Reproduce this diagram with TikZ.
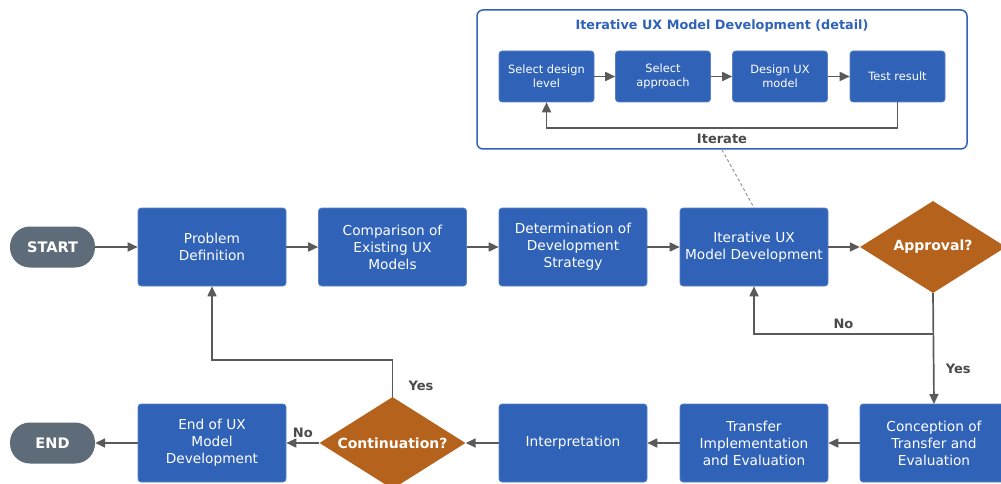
\documentclass[tikz,border=0pt]{standalone}
\usepackage{fontspec}
\setmainfont{DejaVu Sans}
\usetikzlibrary{arrows.meta,shapes.geometric}
\definecolor{boxblue}{HTML}{3063B8}
\definecolor{decorange}{HTML}{B5621D}
\definecolor{pillgray}{HTML}{5E6B78}
\definecolor{linegray}{HTML}{5A5A5A}
\definecolor{lblgray}{HTML}{4A4A4A}
\tikzset{
  box/.style={rectangle, rounded corners=3pt, fill=boxblue, draw=boxblue!80!white, line width=0.6pt,
    minimum width=148, minimum height=78, inner sep=0pt, align=center, text=white,
    font=\fontsize{13.7}{17}\selectfont},
  smallbox/.style={box, minimum width=95, minimum height=51, font=\fontsize{11.4}{14.5}\selectfont},
  pill/.style={rectangle, rounded corners=20pt, fill=pillgray, minimum width=85, minimum height=41,
    inner sep=0pt, text=white, font=\fontsize{14.5}{16}\selectfont\bfseries},
  decision/.style={diamond, aspect=1.59, fill=decorange, minimum width=146, minimum height=92, inner sep=0pt,
    text=white, font=\fontsize{14}{16}\selectfont\bfseries},
  arr/.style={draw=linegray, line width=1.7pt, -{Triangle[length=10pt,width=9pt]}},
  lbl/.style={text=lblgray, font=\fontsize{13}{15}\selectfont\bfseries},
}
\begin{document}
\begin{tikzpicture}[x=1pt,y=-1pt]
    \useasboundingbox (0,0) rectangle (1001,484);
    %detail frame
    \node[draw=boxblue, line width=1.5pt, rounded corners=6pt, fill=white,
        minimum width=490, minimum height=139, inner sep=0pt] (detail) at (722,79.5) {};
    \node[text=boxblue, font=\fontsize{12.8}{15}\selectfont\bfseries] (dtitle) at (722,26)
        {Iterative UX Model Development (detail)};
    %detail steps
    \node[smallbox] (sellevel) at (546.5,76.5) {Select design\\level};
    \node[smallbox] (selappr) at (663,76.5) {Select\\approach};
    \node[smallbox] (designux) at (780,76.5) {Design UX\\model};
    \node[smallbox] (testres) at (897.5,76.5) {Test result};
    \draw[arr] (sellevel) -- (selappr);
    \draw[arr] (selappr) -- (designux);
    \draw[arr] (designux) -- (testres);
    \coordinate (iterjoin) at (897.5,128);
    \draw[arr] (testres.south) -- (iterjoin) -| (sellevel.south)
        node[lbl, pos=0.25, below, yshift=-2pt]{Iterate};
    %upper row
    \node[pill] (start) at (52.5,247) {START};
    \node[box] (probdef) at (212,247) {Problem\\Definition};
    \node[box] (compare) at (392.5,247) {Comparison of\\Existing UX\\Models};
    \node[box] (determ) at (573,247) {Determination of\\Development\\Strategy};
    \node[box] (iterdev) at (754,247) {Iterative UX\\Model Development};
    \node[decision] (approval) at (933,247) {Approval?};
    %lower row
    \node[box] (concept) at (934,443) {Conception of\\Transfer and\\Evaluation};
    \node[box] (transfer) at (754,443) {Transfer\\Implementation\\and Evaluation};
    \node[box] (interp) at (573,443) {Interpretation};
    \node[decision] (contin) at (392.5,443) {Continuation?};
    \node[box] (endux) at (212,443) {End of UX\\Model\\Development};
    \node[pill] (finish) at (52.5,443) {END};
    %detail link
    \draw[draw=gray!85, line width=1pt, dash pattern=on 3pt off 2.5pt] (detail.south) -- (iterdev.north);
    %upper arrows
    \draw[arr] (start) -- (probdef);
    \draw[arr] (probdef) -- (compare);
    \draw[arr] (compare) -- (determ);
    \draw[arr] (determ) -- (iterdev);
    \draw[arr] (iterdev) -- (approval);
    %approval branches
    \draw[arr] (approval.south) -- (concept.north |- 0,404)
        node[lbl, pos=0.68, right, xshift=8pt]{Yes};
    \coordinate (nojoin) at (933,334);
    \draw[arr] (nojoin) -| (iterdev.south)
        node[lbl, pos=0.25, above, yshift=1pt]{No};
    %lower arrows
    \draw[arr] (concept) -- (transfer);
    \draw[arr] (transfer) -- (interp);
    \draw[arr] (interp) -- (contin);
    \draw[arr] (contin) -- (endux) node[lbl, midway, above, yshift=1pt]{No};
    \draw[arr] (endux) -- (finish);
    %continuation loop
    \coordinate (yesjoin) at (392.5,360);
    \draw[arr] (contin.north) -- (yesjoin) -| (probdef.south);
    \node[lbl] (yeslbl) at (421,386) {Yes};
\end{tikzpicture}
\end{document}
